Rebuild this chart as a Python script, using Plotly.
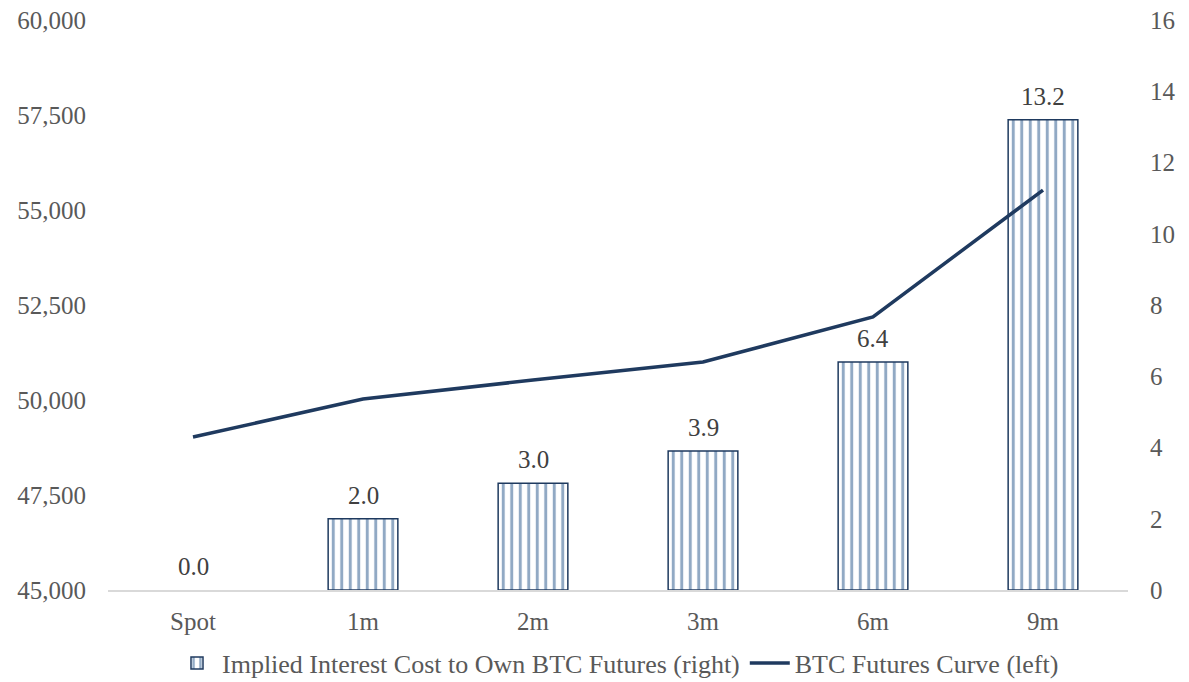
import plotly.graph_objects as go

categories = ["Spot", "1m", "2m", "3m", "6m", "9m"]
interest_cost = [0.0, 2.0, 3.0, 3.9, 6.4, 13.2]
futures_curve = [49025, 50025, 50525, 51000, 52185, 55525]

FONT = "Liberation Serif"
GRAY = "#595959"
NAVY = "#1F3A5F"
FS = 25
BAR_NAME = "Implied Interest Cost to Own BTC Futures (right)"
LINE_NAME = "BTC Futures Curve (left)"

bar_pattern = dict(shape="|", fgcolor="#24548A", bgcolor="white", size=8.5, solidity=0.35)

fig = go.Figure()
# legend-only entry (keeps a bordered pattern icon)
fig.add_trace(go.Bar(x=[categories[0]], y=[None], name=BAR_NAME, showlegend=True,
                     marker=dict(color="white", line=dict(color=NAVY, width=1.5), pattern=bar_pattern)))
fig.add_trace(go.Bar(
    x=categories, y=interest_cost, yaxis="y", showlegend=False, name=BAR_NAME,
    marker=dict(color="white",
                line=dict(color=[("rgba(0,0,0,0)" if v == 0 else NAVY) for v in interest_cost], width=1.5),
                pattern=bar_pattern),
))
fig.add_trace(go.Scatter(
    x=categories, y=futures_curve, yaxis="y2",
    name=LINE_NAME, mode="lines",
    line=dict(color=NAVY, width=3.5),
))

for c, v in zip(categories, interest_cost):
    fig.add_annotation(x=c, y=v, xref="x", yref="y", text=f"{v:.1f}", showarrow=False,
                       yanchor="bottom", yshift=8,
                       font=dict(family=FONT, size=FS, color="#404040"))

fig.update_layout(
    width=1181, height=674,
    margin=dict(l=100, r=61, t=12, b=92, autoexpand=False),
    paper_bgcolor="white", plot_bgcolor="white",
    font=dict(family=FONT, size=FS, color=GRAY),
    barmode="overlay",
    bargap=0.59,
    showlegend=True,
    legend=dict(orientation="h", x=0.5, xanchor="center", yref="container", y=0.028, yanchor="middle",
                font=dict(family=FONT, size=26, color=GRAY), itemwidth=40, tracegroupgap=0),
    xaxis=dict(type="category", categoryorder="array", categoryarray=categories,
               showgrid=False, showline=True, linecolor="#D9D9D9", linewidth=1.5,
               ticks="outside", ticklen=8, tickcolor="rgba(0,0,0,0)", automargin=False),
    yaxis=dict(range=[0, 16], dtick=2, side="right", showgrid=False,
               zeroline=False, showline=False, automargin=False, ticklabeloverflow="allow",
               ticks="outside", ticklen=16, tickcolor="rgba(0,0,0,0)"),
    yaxis2=dict(range=[45000, 60000], tickvals=[45000, 47500, 50000, 52500, 55000, 57500, 60000],
                tickformat=",", overlaying="y", side="left", showgrid=False, zeroline=False,
                showline=False, automargin=False, ticklabeloverflow="allow",
                ticks="outside", ticklen=16, tickcolor="rgba(0,0,0,0)"),
)

fig.write_html("out.html")
